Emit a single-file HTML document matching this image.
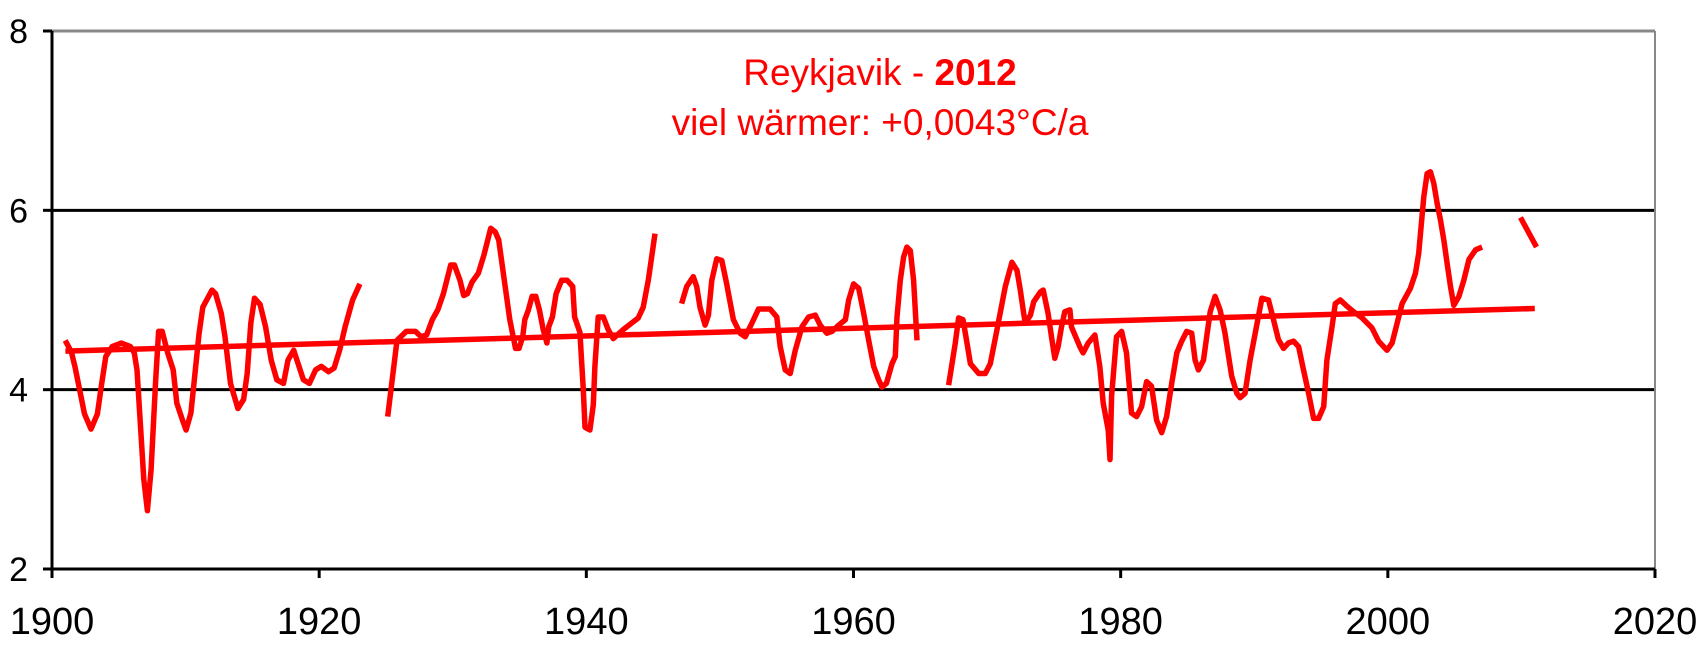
<!DOCTYPE html>
<html><head><meta charset="utf-8"><style>
html,body{margin:0;padding:0;background:#fff;}
svg{display:block;font-family:"Liberation Sans",Arial,sans-serif;}
</style></head><body>
<svg id="chart" width="1708" height="646" viewBox="0 0 1708 646" xmlns="http://www.w3.org/2000/svg">
<rect x="0" y="0" width="1708" height="646" fill="#fff"/>
<g id="grid"></g>
<g id="series"></g>
<g id="axes"></g>
<text x="880" y="85" text-anchor="middle" font-size="37" fill="#ff0000">Reykjavik - <tspan font-weight="bold">2012</tspan></text>
<text x="880" y="135" text-anchor="middle" font-size="37" fill="#ff0000">viel wärmer: +0,0043°C/a</text>
</svg>
<script>
const yTicks = [2, 4, 6, 8];
const xTicks = [1900, 1920, 1940, 1960, 1980, 2000, 2020];
const seg1Years = [1900.99,1901.45,1901.73,1902.43,1902.92,1903.40,1903.68,1904.03,1904.51,1905.19,1905.87,1906.16,1906.36,1906.58,1906.87,1907.14,1907.42,1907.76,1907.98,1908.25,1908.66,1909.07,1909.34,1909.75,1910.04,1910.40,1910.60,1911.01,1911.29,1911.98,1912.25,1912.67,1912.95,1913.36,1913.92,1914.34,1914.61,1914.88,1915.16,1915.58,1915.99,1916.41,1916.83,1917.33,1917.67,1918.09,1918.49,1918.82,1919.27,1919.73,1920.16,1920.70,1921.12,1921.53,1921.94,1922.50,1923.05];
const seg1Values = [4.55,4.42,4.25,3.73,3.56,3.73,4.03,4.37,4.48,4.52,4.48,4.41,4.22,3.7,3.0,2.65,3.11,4.11,4.65,4.65,4.41,4.22,3.85,3.67,3.55,3.74,4.03,4.63,4.92,5.11,5.07,4.85,4.59,4.07,3.79,3.89,4.18,4.74,5.02,4.95,4.7,4.33,4.11,4.07,4.33,4.44,4.26,4.11,4.07,4.22,4.26,4.2,4.24,4.44,4.7,5.0,5.18];
const seg2Years = [1925.13,1925.83,1926.52,1927.21,1927.63,1928.04,1928.47,1928.88,1929.30,1929.85,1930.12,1930.54,1930.82,1931.10,1931.44,1931.92,1932.33,1932.84,1933.18,1933.44,1933.86,1934.27,1934.70,1934.96,1935.24,1935.39,1935.66,1935.94,1936.22,1936.49,1936.77,1937.05,1937.18,1937.46,1937.74,1938.15,1938.57,1938.98,1939.12,1939.52,1939.77,1939.9,1940.27,1940.52,1940.64,1940.89,1941.27,1941.64,1942.02,1942.77,1943.89,1944.26,1944.64,1945.14];
const seg2Values = [3.7,4.55,4.65,4.65,4.59,4.61,4.78,4.89,5.07,5.39,5.39,5.22,5.05,5.07,5.2,5.3,5.5,5.8,5.76,5.67,5.22,4.78,4.46,4.46,4.59,4.78,4.89,5.04,5.04,4.89,4.67,4.52,4.7,4.81,5.07,5.22,5.22,5.15,4.81,4.64,4.0,3.58,3.55,3.83,4.26,4.81,4.81,4.67,4.57,4.67,4.8,4.92,5.22,5.74];
const seg3Years = [1947.13,1947.51,1948.01,1948.26,1948.51,1948.89,1949.14,1949.39,1949.76,1950.14,1950.51,1950.64,1951.01,1951.51,1951.89,1952.39,1952.89,1953.76,1954.26,1954.51,1954.89,1955.26,1955.64,1956.14,1956.64,1957.14,1957.51,1958.01,1958.39,1958.89,1959.39,1959.64,1960.01,1960.39,1960.76,1961.14,1961.51,1961.88,1962.13,1962.46,1962.88,1963.13,1963.26,1963.5,1963.75,1964.0,1964.25,1964.5,1964.75];
const seg3Values = [4.96,5.15,5.26,5.15,4.92,4.72,4.83,5.22,5.46,5.44,5.18,5.07,4.78,4.63,4.59,4.74,4.9,4.9,4.81,4.48,4.22,4.18,4.44,4.7,4.81,4.83,4.72,4.63,4.65,4.72,4.78,5.0,5.18,5.13,4.85,4.55,4.26,4.11,4.03,4.07,4.29,4.37,4.81,5.22,5.48,5.59,5.55,5.22,4.55];
const seg4Years = [1967.12,1967.62,1967.87,1968.2,1968.5,1968.75,1969.37,1969.87,1970.24,1970.74,1971.36,1971.86,1972.24,1972.49,1972.74,1972.86,1973.24,1973.49,1973.99,1974.2,1974.57,1974.82,1975.07,1975.32,1975.57,1975.82,1976.2,1976.32,1976.94,1977.19,1977.57,1978.07,1978.44,1978.69,1979.07,1979.2,1979.32,1979.69,1980.07,1980.44,1980.69,1980.81,1981.19,1981.57,1981.94,1982.31,1982.69,1983.07,1983.44,1983.82,1984.2,1984.57,1984.94,1985.32,1985.57,1985.82,1986.2,1986.44,1986.7,1987.07,1987.44,1987.81,1988.31,1988.69,1988.94,1989.31,1989.69,1990.07,1990.57,1991.07,1991.44,1991.81,1992.19,1992.56,1992.94,1993.32,1993.69,1994.07,1994.44,1994.82,1995.2,1995.44,1995.82,1996.07,1996.44,1996.94,1997.44,1998.07,1998.81,1999.31,1999.94,2000.32,2000.69,2001.07,2001.69,2002.07,2002.31,2002.56,2002.69,2002.94,2003.19,2003.44,2003.69,2003.94,2004.19,2004.44,2004.69,2004.94,2005.32,2005.69,2006.07,2006.57,2007.06];
const seg4Values = [4.05,4.52,4.8,4.78,4.52,4.29,4.18,4.18,4.29,4.67,5.15,5.42,5.33,5.11,4.85,4.74,4.83,4.98,5.09,5.11,4.85,4.59,4.35,4.48,4.7,4.87,4.89,4.7,4.48,4.41,4.52,4.61,4.26,3.85,3.55,3.22,3.93,4.59,4.65,4.41,3.96,3.74,3.7,3.81,4.09,4.04,3.66,3.52,3.7,4.07,4.41,4.54,4.65,4.63,4.33,4.22,4.33,4.59,4.87,5.04,4.89,4.63,4.15,3.96,3.91,3.96,4.33,4.63,5.02,5.0,4.78,4.56,4.46,4.52,4.54,4.48,4.22,3.96,3.68,3.68,3.81,4.33,4.7,4.96,5.0,4.93,4.87,4.8,4.69,4.54,4.44,4.52,4.74,4.96,5.13,5.3,5.52,5.93,6.15,6.41,6.43,6.3,6.08,5.89,5.67,5.41,5.15,4.94,5.04,5.22,5.45,5.56,5.59];
const seg5Years = [2009.93, 2011.13];
const seg5Values = [5.92, 5.59];
const trendYears = [1901, 2011];
const trendValues = [4.43, 4.905];

const X0 = 52, X1 = 1655, Y8 = 31, Y2 = 569;
function xs(yr){ return X0 + (yr - 1900) * (X1 - X0) / 120; }
function ys(v){ return Y2 - (v - 2) * (Y2 - Y8) / 6; }
const NS = 'http://www.w3.org/2000/svg';
function mk(tag, parent){ const e = document.createElementNS(NS, tag); parent.appendChild(e); return e; }

const grid = document.getElementById('grid');
yTicks.forEach(function(t){
  if (t === 2) return;
  const l = mk('line', grid);
  
  
  l.setAttribute('x1', X0); l.setAttribute('x2', X1);
  l.setAttribute('y1', ys(t)); l.setAttribute('y2', ys(t));
  l.setAttribute('stroke', t === 8 ? '#888' : '#000');
  l.setAttribute('stroke-width', 3);
});
const rb = mk('line', grid);


rb.setAttribute('x1', X1); rb.setAttribute('x2', X1); rb.setAttribute('y1', Y8); rb.setAttribute('y2', Y2);
rb.setAttribute('stroke', '#888'); rb.setAttribute('stroke-width', 2);

const series = document.getElementById('series');
function drawLine(yrs, vals, name, w){
  const p = mk('polyline', series);
  
  
  p.setAttribute('points', yrs.map(function(y, i){ return xs(y).toFixed(1) + ',' + ys(vals[i]).toFixed(1); }).join(' '));
  p.setAttribute('fill', 'none');
  p.setAttribute('stroke', '#ff0000');
  p.setAttribute('stroke-width', w);
  p.setAttribute('stroke-linejoin', 'round');
}
drawLine(trendYears, trendValues, 'trend-line', 5.5);
drawLine(seg1Years, seg1Values, 'temperature-series-segment-1', 5.5);
drawLine(seg2Years, seg2Values, 'temperature-series-segment-2', 5.5);
drawLine(seg3Years, seg3Values, 'temperature-series-segment-3', 5.5);
drawLine(seg4Years, seg4Values, 'temperature-series-segment-4', 5.5);
drawLine(seg5Years, seg5Values, 'temperature-series-segment-5', 5.5);

const axes = document.getElementById('axes');
const ya = mk('line', axes);


ya.setAttribute('x1', X0); ya.setAttribute('x2', X0); ya.setAttribute('y1', Y8); ya.setAttribute('y2', Y2 + 9);
ya.setAttribute('stroke', '#000'); ya.setAttribute('stroke-width', 3);
const xa = mk('line', axes);


xa.setAttribute('x1', X0 - 9); xa.setAttribute('x2', X1); xa.setAttribute('y1', Y2); xa.setAttribute('y2', Y2);
xa.setAttribute('stroke', '#000'); xa.setAttribute('stroke-width', 3);
yTicks.forEach(function(t){
  const tk = mk('line', axes);
  
  
  tk.setAttribute('x1', X0 - 9); tk.setAttribute('x2', X0); tk.setAttribute('y1', ys(t)); tk.setAttribute('y2', ys(t));
  tk.setAttribute('stroke', '#000'); tk.setAttribute('stroke-width', 3);
  const tx = mk('text', axes);
  
  
  tx.setAttribute('x', 28); tx.setAttribute('y', ys(t) + 12);
  tx.setAttribute('text-anchor', 'end'); tx.setAttribute('font-size', 34);
  tx.textContent = t;
});
xTicks.forEach(function(t){
  const tk = mk('line', axes);
  
  
  tk.setAttribute('x1', xs(t)); tk.setAttribute('x2', xs(t)); tk.setAttribute('y1', Y2); tk.setAttribute('y2', Y2 + 9);
  tk.setAttribute('stroke', '#000'); tk.setAttribute('stroke-width', 3);
  const tx = mk('text', axes);
  
  
  tx.setAttribute('x', xs(t)); tx.setAttribute('y', 634);
  tx.setAttribute('text-anchor', 'middle'); tx.setAttribute('font-size', 38);
  tx.textContent = t;
});
</script>
</body></html>
